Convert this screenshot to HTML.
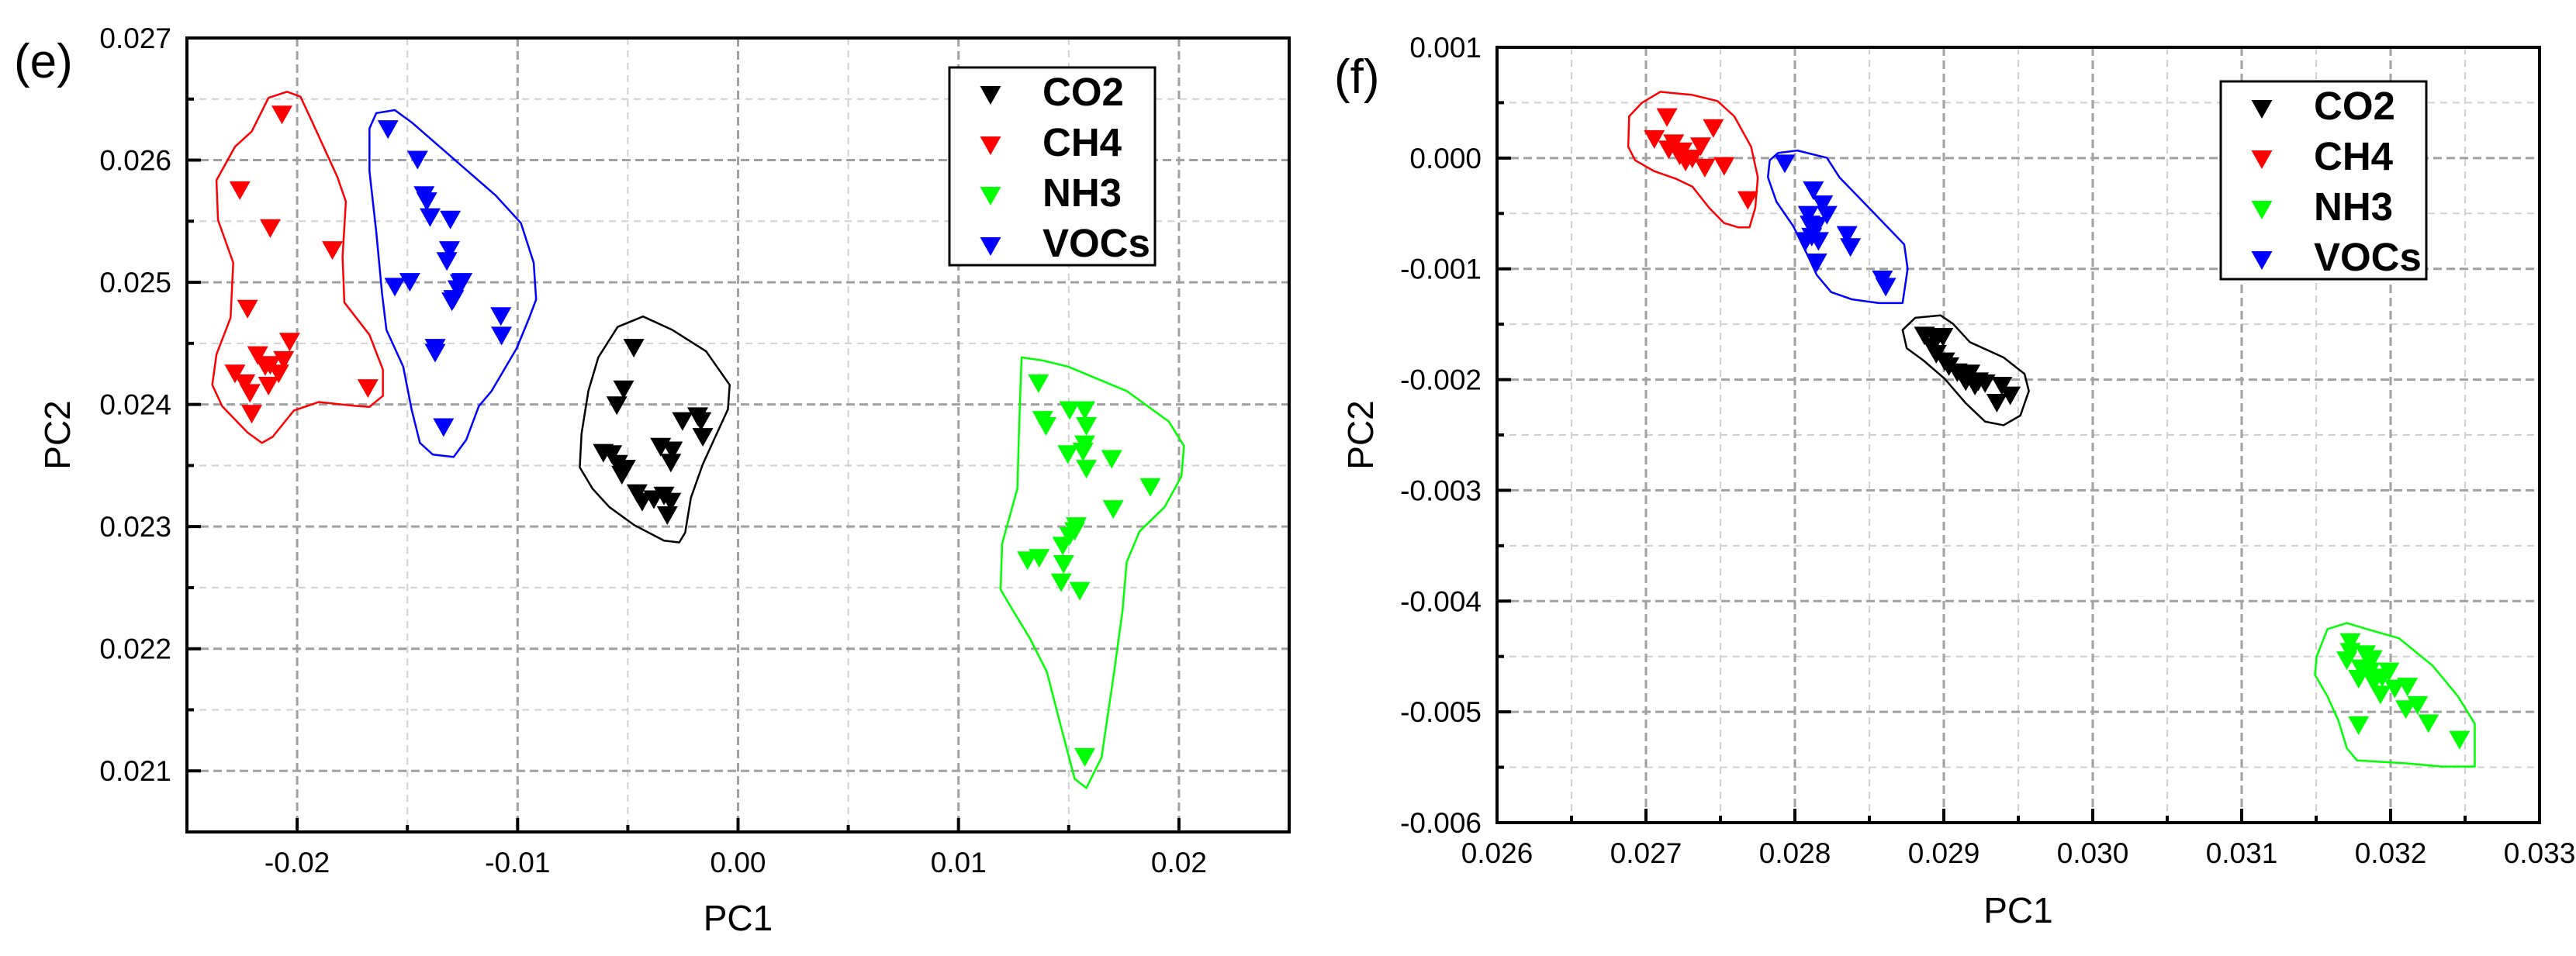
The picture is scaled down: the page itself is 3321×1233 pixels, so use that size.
<!DOCTYPE html>
<html><head><meta charset="utf-8">
<style>
html,body{margin:0;padding:0;background:#fff;}
svg{display:block;font-family:"Liberation Sans",Arial,sans-serif;}
</style></head>
<body>
<svg id="fig" width="3321" height="1233" viewBox="0 0 3321 1233" xmlns="http://www.w3.org/2000/svg"></svg>
<script>
// ---------- Panel (e) data ----------
const eCategories = ["CO2","CH4","NH3","VOCs"];
const eCO2x = [-0.00473,-0.00519,-0.00550,-0.00611,-0.00573,-0.00546,-0.00519,-0.00527,-0.00458,-0.00435,-0.00382,-0.00336,-0.00305,-0.00321,-0.00351,-0.00298,-0.00305,-0.00252,-0.00183,-0.00168,-0.00160,-0.00511];
const eCO2y = [0.02446,0.02412,0.02399,0.02360,0.02359,0.02351,0.02345,0.02342,0.02327,0.02320,0.02322,0.02325,0.02320,0.02309,0.02365,0.02362,0.02352,0.02386,0.02390,0.02386,0.02373,0.02347];
const eCH4x = [-0.02069,-0.02260,-0.02122,-0.01840,-0.02225,-0.02034,-0.02179,-0.02122,-0.02061,-0.02282,-0.02237,-0.02214,-0.02130,-0.02084,-0.02206,-0.01679,-0.02145];
const eCH4y = [0.02637,0.02575,0.02544,0.02526,0.02478,0.02451,0.02440,0.02432,0.02436,0.02425,0.02417,0.02409,0.02415,0.02425,0.02392,0.02413,0.02431];
const eNH3x = [0.01363,0.01382,0.01397,0.01504,0.01573,0.01580,0.01573,0.01496,0.01565,0.01580,0.01695,0.01870,0.01702,0.01527,0.01504,0.01473,0.01313,0.01366,0.01477,0.01466,0.01550,0.01573,0.01534];
const eNH3y = [0.02417,0.02387,0.02382,0.02395,0.02395,0.02382,0.02367,0.02359,0.02361,0.02347,0.02355,0.02332,0.02314,0.02296,0.02292,0.02284,0.02272,0.02274,0.02269,0.02254,0.02247,0.02111,0.02300];
const eVOCx = [-0.01588,-0.01454,-0.01424,-0.01412,-0.01397,-0.01305,-0.01309,-0.01321,-0.01489,-0.01557,-0.01252,-0.01271,-0.01290,-0.01298,-0.01076,-0.01073,-0.01374,-0.01374,-0.01336,-0.01260];
const eVOCy = [0.02625,0.02600,0.02571,0.02566,0.02553,0.02551,0.02526,0.02517,0.02500,0.02496,0.02500,0.02494,0.02486,0.02484,0.02472,0.02456,0.02446,0.02442,0.02381,0.02499];
const eHullCO2x = [-0.00679,-0.00634,-0.00546,-0.00431,-0.00298,-0.00145,-0.00038,-0.00046,-0.00107,-0.00160,-0.00214,-0.00240,-0.00267,-0.00336,-0.00469,-0.00584,-0.00660,-0.00718,-0.00710];
const eHullCO2y = [0.02411,0.024385,0.024635,0.02472,0.02461,0.024435,0.02416,0.02396,0.02372,0.02351,0.023235,0.02295,0.02287,0.022885,0.02301,0.02316,0.02331,0.023485,0.02376];
const eHullCH4x = [-0.02366,-0.02282,-0.02206,-0.02130,-0.02046,-0.01985,-0.01931,-0.01817,-0.01779,-0.01794,-0.01786,-0.01672,-0.01611,-0.01611,-0.01672,-0.01748,-0.01901,-0.02015,-0.02111,-0.02160,-0.02225,-0.02340,-0.02385,-0.02366,-0.02302,-0.02290,-0.02359];
const eHullCH4y = [0.025835,0.02611,0.026235,0.02651,0.02656,0.02652,0.02631,0.02586,0.02566,0.02521,0.024835,0.02457,0.024285,0.02407,0.02398,0.02399,0.02402,0.02395,0.023735,0.023685,0.02377,0.023985,0.02416,0.02441,0.02471,0.02516,0.02551];
const eHullNH3x = [0.01286,0.01382,0.01496,0.01763,0.01954,0.02023,0.02011,0.01935,0.01821,0.01763,0.01744,0.01706,0.01649,0.01580,0.01527,0.01458,0.01401,0.01324,0.01248,0.01191,0.01198,0.01267,0.01275];
const eHullNH3y = [0.024385,0.02436,0.02431,0.02411,0.02386,0.02366,0.02341,0.02316,0.02296,0.02271,0.02231,0.02181,0.02111,0.02086,0.020935,0.02141,0.02181,0.022085,0.02231,0.022485,0.02286,0.02331,0.02381];
const eHullVOCx = [-0.01672,-0.01641,-0.01557,-0.01481,-0.01290,-0.01099,-0.00985,-0.00927,-0.00916,-0.00947,-0.01004,-0.01118,-0.01176,-0.01233,-0.01290,-0.01385,-0.01443,-0.01481,-0.01519,-0.01595,-0.01615,-0.01641,-0.01672];
const eHullVOCy = [0.02626,0.026385,0.02641,0.02631,0.02601,0.02571,0.025485,0.02516,0.02486,0.02471,0.02446,0.02411,0.023985,0.02371,0.02357,0.02359,0.023685,0.02396,0.02431,0.02461,0.02491,0.02541,0.02591];
const eXTicks = [-0.02,-0.01,0.00,0.01,0.02];
const eXTickLabels = ["-0.02","-0.01","0.00","0.01","0.02"];
const eYTicks = [0.021,0.022,0.023,0.024,0.025,0.026,0.027];
const eYTickLabels = ["0.021","0.022","0.023","0.024","0.025","0.026","0.027"];

// ---------- Panel (f) data ----------
const fCO2x = [0.028870,0.028938,0.028994,0.028921,0.028949,0.029006,0.029034,0.029090,0.029130,0.029175,0.029209,0.029277,0.029356,0.029390,0.029446,0.029232,0.029147];
const fCO2y = [-0.001607,-0.001618,-0.001618,-0.001706,-0.001772,-0.001839,-0.001883,-0.001938,-0.001982,-0.001949,-0.002059,-0.002037,-0.002213,-0.002059,-0.002147,-0.002020,-0.002020];
const fCH4x = [0.027141,0.027056,0.027186,0.027153,0.027226,0.027266,0.027311,0.027367,0.027395,0.027452,0.027525,0.027684,0.027243];
const fCH4y = [0.000366,0.000168,0.000129,0.000074,0.000019,-0.000036,-0.000009,0.000102,-0.000091,0.000267,-0.000075,-0.000383,0.000057];
const fNH3x = [0.031729,0.031706,0.031831,0.031876,0.031802,0.031859,0.031785,0.031887,0.031944,0.031989,0.031932,0.032028,0.032113,0.032102,0.032181,0.032254,0.031785,0.032463,0.031729];
const fNH3y = [-0.004374,-0.004539,-0.004484,-0.004528,-0.004611,-0.004639,-0.004705,-0.004738,-0.004694,-0.004639,-0.004848,-0.004793,-0.004776,-0.004980,-0.004942,-0.005107,-0.005124,-0.005256,-0.004462];
const fVOCx = [0.027932,0.028124,0.028186,0.028090,0.028215,0.028147,0.028113,0.028158,0.028073,0.028147,0.028350,0.028373,0.028588,0.028610,0.028102];
const fVOCy = [-0.000053,-0.000295,-0.000422,-0.000516,-0.000516,-0.000615,-0.000714,-0.000753,-0.000753,-0.000946,-0.000698,-0.000808,-0.001100,-0.001166,-0.000604];
const fHullCO2x = [0.028723,0.028808,0.028977,0.029062,0.029175,0.029401,0.029542,0.029571,0.029514,0.029401,0.029277,0.029147,0.029006,0.028864,0.028751];
const fHullCO2y = [-0.001552,-0.001442,-0.001420,-0.001497,-0.001662,-0.001800,-0.001949,-0.002103,-0.002324,-0.002412,-0.002379,-0.002213,-0.001993,-0.001828,-0.001717];
const fHullCH4x = [0.026887,0.026972,0.027096,0.027311,0.027480,0.027593,0.027706,0.027751,0.027734,0.027695,0.027621,0.027525,0.027424,0.027311,0.027198,0.027056,0.026927,0.026881];
const fHullCH4y = [0.000377,0.000498,0.000598,0.000570,0.000515,0.000377,0.000102,-0.000174,-0.000449,-0.000626,-0.000626,-0.000587,-0.000449,-0.000257,-0.000185,-0.000119,-0.000020,0.000102];
const fHullNH3x = [0.031503,0.031576,0.031706,0.031842,0.032056,0.032282,0.032452,0.032565,0.032565,0.032339,0.032113,0.031774,0.031706,0.031650,0.031576,0.031492];
const fHullNH3y = [-0.004501,-0.004253,-0.004198,-0.004253,-0.004335,-0.004583,-0.004859,-0.005107,-0.005493,-0.005493,-0.005465,-0.005438,-0.005328,-0.005080,-0.004859,-0.004666];
const fHullVOCx = [0.027831,0.027887,0.028017,0.028215,0.028299,0.028497,0.028734,0.028757,0.028723,0.028565,0.028384,0.028243,0.028147,0.028090,0.027989,0.027876,0.027819];
const fHullVOCy = [-0.000020,0.000046,0.000068,0.000002,-0.000174,-0.000449,-0.000780,-0.001000,-0.001309,-0.001309,-0.001276,-0.001210,-0.001056,-0.000891,-0.000615,-0.000394,-0.000174];
const fXTicks = [0.026,0.027,0.028,0.029,0.030,0.031,0.032,0.033];
const fXTickLabels = ["0.026","0.027","0.028","0.029","0.030","0.031","0.032","0.033"];
const fYTicks = [-0.006,-0.005,-0.004,-0.003,-0.002,-0.001,0.000,0.001];
const fYTickLabels = ["-0.006","-0.005","-0.004","-0.003","-0.002","-0.001","0.000","0.001"];

const NS = "http://www.w3.org/2000/svg";
const svg = document.getElementById("fig");
const COLORS = {CO2:"#000000",CH4:"#ff0000",NH3:"#00ff00",VOCs:"#0000ff"};

function mk(tag, attrs, parent){
  const el = document.createElementNS(NS, tag);
  for (const k in attrs) el.setAttribute(k, attrs[k]);
  parent.appendChild(el);
  return el;
}
function tri(g, cx, cy, color){
  const w = 13.5, h = 12;
  return mk("polygon", {points:`${cx-w},${cy-h} ${cx+w},${cy-h} ${cx},${cy+h}`, fill:color}, g);
}

function drawPanel(p){
  const g = mk("g", {}, svg);
  
  
  const sx = v => p.L + (v - p.xmin) / (p.xmax - p.xmin) * (p.R - p.L);
  const sy = v => p.B - (v - p.ymin) / (p.ymax - p.ymin) * (p.B - p.T);

  // minor grid
  const gm = mk("g", {stroke:"#d0d0d0","stroke-width":2,"stroke-dasharray":"9,7"}, g);
  
  
  for (let i = 0; i < p.xTicks.length; i++){
    const v = p.xTicks[i] + p.xMinor;
    if (v < p.xmax - 1e-9){ mk("line",{x1:sx(v),x2:sx(v),y1:p.T,y2:p.B},gm); }
    if (i===0 && p.xTicks[0]-p.xMinor > p.xmin+1e-9){ const u=p.xTicks[0]-p.xMinor; mk("line",{x1:sx(u),x2:sx(u),y1:p.T,y2:p.B},gm); }
  }
  for (let i = 0; i < p.yTicks.length; i++){
    const v = p.yTicks[i] + p.yMinor;
    if (v < p.ymax - 1e-9){ mk("line",{x1:p.L,x2:p.R,y1:sy(v),y2:sy(v)},gm); }
    if (i===0 && p.yTicks[0]-p.yMinor > p.ymin+1e-9){ const u=p.yTicks[0]-p.yMinor; mk("line",{x1:p.L,x2:p.R,y1:sy(u),y2:sy(u)},gm); }
  }
  // major grid
  const gM = mk("g", {stroke:"#a0a0a0","stroke-width":3,"stroke-dasharray":"11,6"}, g);
  
  
  p.xTicks.forEach(v => { if (v > p.xmin+1e-9 && v < p.xmax-1e-9) mk("line",{x1:sx(v),x2:sx(v),y1:p.T,y2:p.B},gM); });
  p.yTicks.forEach(v => { if (v > p.ymin+1e-9 && v < p.ymax-1e-9) mk("line",{x1:p.L,x2:p.R,y1:sy(v),y2:sy(v)},gM); });

  // hulls
  p.hulls.forEach(h => {
    const pts = h.x.map((v,i) => sx(v)+","+sy(h.y[i])).join(" ");
    const poly = mk("polygon", {points:pts, fill:"none", stroke:COLORS[h.cat], "stroke-width":2.5, "stroke-linejoin":"round"}, g);
    
    
  });

  // points
  p.series.forEach(s => {
    const sg = mk("g", {}, g);
    
    
    s.x.forEach((v,i) => {
      const t = tri(sg, sx(v), sy(s.y[i]), COLORS[s.cat]);
      
      
    });
  });

  // frame
  const fr = mk("rect", {x:p.L, y:p.T, width:p.R-p.L, height:p.B-p.T, fill:"none", stroke:"#000", "stroke-width":4}, g);
  
  

  // ticks
  const tg = mk("g", {stroke:"#000","stroke-width":4}, g);
  
  
  p.xTicks.forEach(v => mk("line",{x1:sx(v),x2:sx(v),y1:p.B,y2:p.B-18},tg));
  p.yTicks.forEach(v => mk("line",{x1:p.L,x2:p.L+18,y1:sy(v),y2:sy(v)},tg));
  for (let v = p.xTicks[0] - p.xMinor; v < p.xmax; v += 2*p.xMinor){ if (v > p.xmin+1e-9) mk("line",{x1:sx(v),x2:sx(v),y1:p.B,y2:p.B-9},tg); }
  for (let v = p.yTicks[0] - p.yMinor; v < p.ymax; v += 2*p.yMinor){ if (v > p.ymin+1e-9) mk("line",{x1:p.L,x2:p.L+9,y1:sy(v),y2:sy(v)},tg); }

  // tick labels
  p.xTicks.forEach((v,i) => {
    const t = mk("text", {x:sx(v), y:p.B+52, "text-anchor":"middle", "font-size":37}, g);
    t.textContent = p.xTickLabels[i];
    
    
  });
  p.yTicks.forEach((v,i) => {
    const t = mk("text", {x:p.L-20, y:sy(v)+13, "text-anchor":"end", "font-size":37}, g);
    t.textContent = p.yTickLabels[i];
    
    
  });

  // axis titles
  const xt = mk("text", {x:(p.L+p.R)/2, y:p.xTitleY, "text-anchor":"middle", "font-size":46}, g);
  xt.textContent = "PC1";
  
  
  const yt = mk("text", {x:0, y:0, "text-anchor":"middle", "font-size":46, transform:`translate(${p.yTitleX},${(p.T+p.B)/2}) rotate(-90)`}, g);
  yt.textContent = "PC2";
  
  

  // panel label
  const pl = mk("text", {x:p.labelX, y:p.labelY, "font-size":62}, g);
  pl.textContent = p.label;
  
  

  // legend
  const lg = mk("g", {}, g);
  
  
  mk("rect", {x:p.legX, y:p.legY, width:265, height:255, fill:"#fff", stroke:"#000", "stroke-width":3}, lg);
  eCategories.forEach((c,i) => {
    const row = mk("g", {}, lg);
    
    
    tri(row, p.legX+53, p.legY+36+i*65, COLORS[c]);
    const t = mk("text", {x:p.legX+120, y:p.legY+49+i*65, "font-size":51, "font-weight":"bold"}, row);
    t.textContent = c;
  });
}

drawPanel({
  id:"panel-e", label:"(e)", labelX:18, labelY:100,
  L:241, R:1662, T:49, B:1073,
  xmin:-0.025, xmax:0.025, ymin:0.0205, ymax:0.027,
  xMinor:0.005, yMinor:0.0005,
  xTicks:eXTicks, xTickLabels:eXTickLabels, yTicks:eYTicks, yTickLabels:eYTickLabels,
  xTitleY:1200, yTitleX:90, legX:1224, legY:87,
  series:[{cat:"CO2",x:eCO2x,y:eCO2y},{cat:"CH4",x:eCH4x,y:eCH4y},{cat:"NH3",x:eNH3x,y:eNH3y},{cat:"VOCs",x:eVOCx,y:eVOCy}],
  hulls:[{cat:"CH4",x:eHullCH4x,y:eHullCH4y},{cat:"VOCs",x:eHullVOCx,y:eHullVOCy},{cat:"CO2",x:eHullCO2x,y:eHullCO2y},{cat:"NH3",x:eHullNH3x,y:eHullNH3y}]
});
drawPanel({
  id:"panel-f", label:"(f)", labelX:1720, labelY:120,
  L:1930, R:3274, T:61, B:1061,
  xmin:0.026, xmax:0.033, ymin:-0.006, ymax:0.001,
  xMinor:0.0005, yMinor:0.0005,
  xTicks:fXTicks, xTickLabels:fXTickLabels, yTicks:fYTicks, yTickLabels:fYTickLabels,
  xTitleY:1190, yTitleX:1770, legX:2863, legY:105,
  series:[{cat:"CO2",x:fCO2x,y:fCO2y},{cat:"CH4",x:fCH4x,y:fCH4y},{cat:"NH3",x:fNH3x,y:fNH3y},{cat:"VOCs",x:fVOCx,y:fVOCy}],
  hulls:[{cat:"CH4",x:fHullCH4x,y:fHullCH4y},{cat:"VOCs",x:fHullVOCx,y:fHullVOCy},{cat:"CO2",x:fHullCO2x,y:fHullCO2y},{cat:"NH3",x:fHullNH3x,y:fHullNH3y}]
});
</script>
</body></html>
